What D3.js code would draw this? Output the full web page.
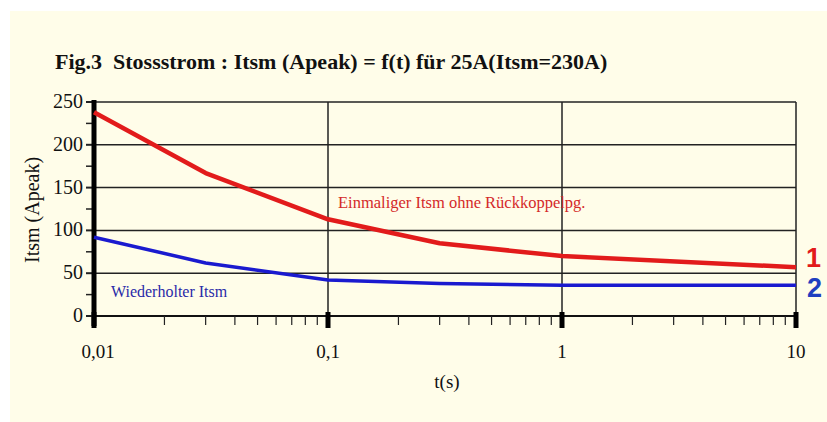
<!DOCTYPE html>
<html><head><meta charset="utf-8">
<script src="https://cdn.jsdelivr.net/npm/d3@7"></script>
</head><body style="margin:0;background:#fff">
<svg id="c" width="827" height="422" style="display:block"></svg>
<script>
const title = "Fig.3\u00a0 Stossstrom : Itsm (Apeak) = f(t) für 25A(Itsm=230A)";
const tValues = [0.01, 0.03, 0.1, 0.3, 1, 10];
const series1 = [238, 167, 113, 85, 70, 57];   // Einmaliger Itsm
const series2 = [92, 62, 42, 38, 36, 36];      // Wiederholter Itsm
const xTickValues = [0.01, 0.1, 1, 10];
const xTickLabels = ["0,01", "0,1", "1", "10"];
const yTickValues = [0, 50, 100, 150, 200, 250];
const yMinorValues = [25, 75, 125, 175, 225];
const label1 = "Einmaliger Itsm ohne Rückkoppelpg.";
const label2 = "Wiederholter Itsm";

const SERIF = '"Liberation Serif", monospace';
const SANS = '"Liberation Sans", monospace';
const svg = d3.select("#c");
svg.append("rect").attr("x",10).attr("y",11).attr("width",817).attr("height",411).attr("fill","#fffde9");

const x = d3.scaleLog().domain([0.01,10]).range([94,796]);
const y = d3.scaleLinear().domain([0,250]).range([316,102]);

function stext(sel){ return sel.append("text").style("font-family",SERIF); }

stext(svg).attr("x",55).attr("y",69).attr("font-weight","bold")
  .attr("font-size",22).attr("fill","#111").text(title);

// horizontal grid
svg.selectAll(".hg").data(yTickValues.filter(v=>v>0)).enter().append("line")
  .attr("x1",x(0.01)).attr("x2",x(10)).attr("y1",d=>y(d)).attr("y2",d=>y(d))
  .attr("stroke","#222").attr("stroke-width",1.5);
// vertical grid
svg.selectAll(".vg").data(xTickValues.slice(1)).enter().append("line")
  .attr("x1",d=>x(d)).attr("x2",d=>x(d)).attr("y1",y(250)).attr("y2",y(0))
  .attr("stroke","#222").attr("stroke-width",1.5);
// x axis line
svg.append("line").attr("x1",x(0.01)).attr("x2",x(10)).attr("y1",y(0)).attr("y2",y(0)).attr("stroke","#111").attr("stroke-width",2);

// x minor ticks
const minor = [];
[0.01,0.1,1].forEach(d=>{for(let k=2;k<=9;k++) minor.push(d*k);});
svg.selectAll(".xm").data(minor).enter().append("line")
  .attr("x1",d=>x(d)).attr("x2",d=>x(d)).attr("y1",y(0)).attr("y2",y(0)+9)
  .attr("stroke","#222").attr("stroke-width",1.2);
svg.selectAll(".xM").data(xTickValues).enter().append("rect")
  .attr("x",d=>x(d)-2.5).attr("y",y(0)-4).attr("width",5).attr("height",16).attr("fill","#000");
xTickValues.forEach((d,i)=>{
  stext(svg).attr("x",x(d)+(i==0?4:0)).attr("y",358).attr("text-anchor","middle")
    .attr("font-size",19).attr("fill","#111").text(xTickLabels[i]);
});
stext(svg).attr("x",447).attr("y",388).attr("text-anchor","middle")
  .attr("font-size",19).attr("fill","#111").text("t(s)");

// y axis
svg.selectAll(".ym").data(yMinorValues).enter().append("line")
  .attr("x1",86).attr("x2",x(0.01)).attr("y1",d=>y(d)).attr("y2",d=>y(d)).attr("stroke","#222").attr("stroke-width",1.5);
svg.selectAll(".yM").data(yTickValues).enter().append("line")
  .attr("x1",86).attr("x2",x(0.01)).attr("y1",d=>y(d)).attr("y2",d=>y(d)).attr("stroke","#222").attr("stroke-width",2);
svg.append("rect").attr("x",x(0.01)-2.5).attr("y",y(250)-2).attr("width",5).attr("height",y(0)-y(250)+12).attr("fill","#000");
yTickValues.forEach(d=>{
  stext(svg).attr("x",83).attr("y",y(d)+6).attr("text-anchor","end")
    .attr("font-size",20).attr("fill","#111").text(d);
});
stext(svg).attr("transform","translate(39,210) rotate(-90)").attr("text-anchor","middle")
  .attr("font-size",20).attr("fill","#111").text("Itsm (Apeak)");

// lines
const line = d3.line().x(d=>x(d[0])).y(d=>y(d[1]));
svg.append("path").datum(tValues.map((t,i)=>[t,series1[i]])).attr("d",line)
  .attr("fill","none").attr("stroke","#e21b1b").attr("stroke-width",4.5).attr("stroke-linejoin","round");
svg.append("path").datum(tValues.map((t,i)=>[t,series2[i]])).attr("d",line)
  .attr("fill","none").attr("stroke","#1a1acf").attr("stroke-width",3.5).attr("stroke-linejoin","round");

stext(svg).attr("x",338).attr("y",208).attr("font-size",16.5)
  .attr("fill","#d42a2a").text(label1);
stext(svg).attr("x",111).attr("y",297).attr("font-size",16)
  .attr("fill","#2a2aa8").text(label2);

svg.append("text").style("font-family",SANS).attr("font-weight","bold").attr("x",806).attr("y",267)
  .attr("font-size",27).attr("fill","#e21b1b").text("1");
svg.append("text").style("font-family",SANS).attr("font-weight","bold").attr("x",807).attr("y",297)
  .attr("font-size",27).attr("fill","#1f3fc0").text("2");
</script>
</body></html>
